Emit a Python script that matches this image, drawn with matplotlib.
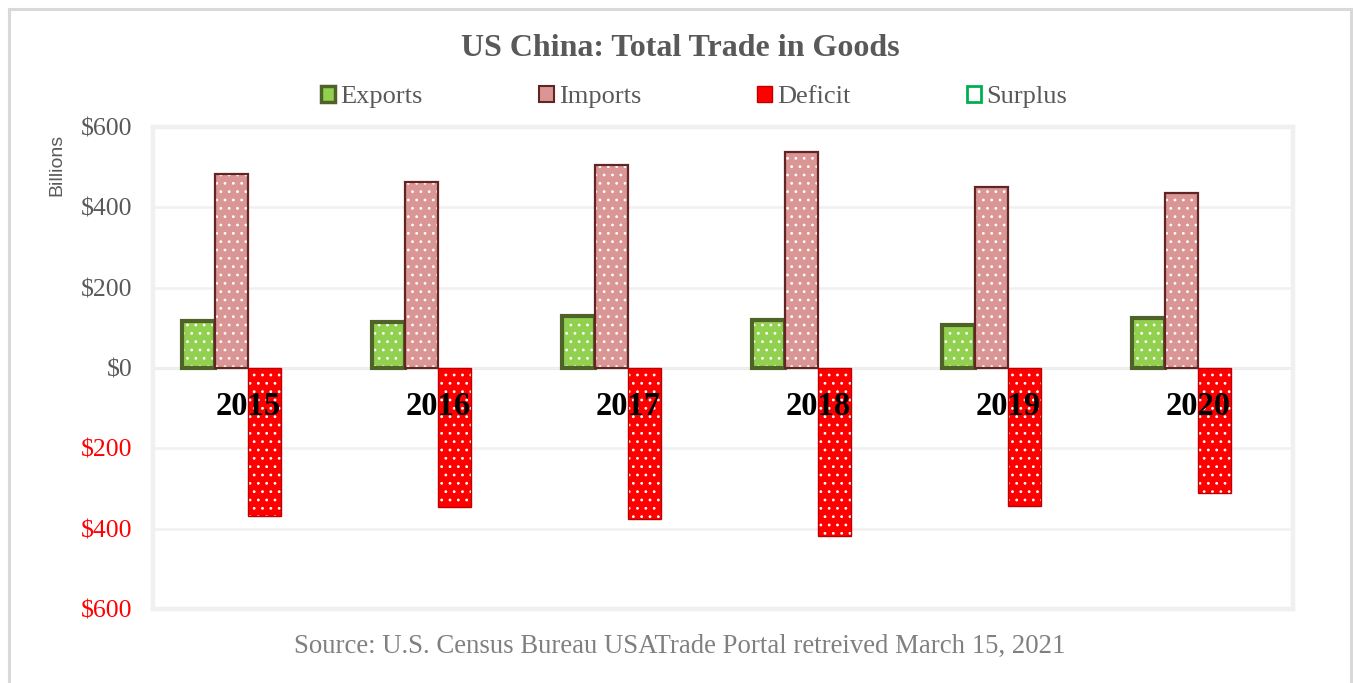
import matplotlib.pyplot as plt
import numpy as np
from matplotlib.patches import Patch, Rectangle

years = ['2015', '2016', '2017', '2018', '2019', '2020']
exports = [115.9, 115.6, 129.8, 120.1, 106.4, 124.6]
imports = [483.2, 462.4, 505.2, 538.5, 450.4, 435.4]
deficit = [-367.3, -346.8, -375.4, -418.4, -344.0, -310.8]
surplus = [0, 0, 0, 0, 0, 0]

serif = 'Liberation Serif'
gray = '#595959'

plt.rcParams['hatch.linewidth'] = 0.8

fig = plt.figure(figsize=(13.53, 6.83), dpi=100)
ax = fig.add_axes([153 / 1353, 1 - 609 / 683, 1140 / 1353, 482 / 683])

x = np.arange(len(years))
w = 0.175
series = [
    (exports, -1.5 * w, '#92d050', '#4f6228', 3.0),
    (imports, -0.5 * w, '#d99694', '#632523', 1.6),
    (deficit, 0.5 * w, '#ff0000', '#c00000', 1.0),
]
for i, (vals, off, fc, ec, lw) in enumerate(series):
    # fill with white dot pattern, then outline on top
    ax.bar(x + off, vals, w, color=fc, edgecolor='white', hatch='..',
           linewidth=0, zorder=3 + i)
    ax.bar(x + off, vals, w, fill=False, edgecolor=ec, linewidth=lw,
           zorder=3 + i)
ax.bar(x + 1.5 * w, surplus, w, color='white', linewidth=0, zorder=2)

ax.set_xlim(-0.5, len(years) - 0.5)
ax.set_ylim(-600, 600)
ax.set_yticks(range(-600, 601, 200))
ax.set_yticklabels(['$%d' % abs(v) for v in range(-600, 601, 200)],
                   fontfamily=serif, fontsize=18.5)
for lab, v in zip(ax.get_yticklabels(), range(-600, 601, 200)):
    lab.set_color('#ff0000' if v < 0 else gray)
ax.tick_params(axis='y', length=0, pad=15)
ax.set_xticks([])
ax.grid(axis='y', color='#f0f0f0', linewidth=1.8, zorder=0)
ax.axhline(0, color='#d9d9d9', linewidth=1.8, zorder=1)
for s in ax.spines.values():
    s.set_color('#f0f0f0')
    s.set_linewidth(3.2)

for i, yr in enumerate(years):
    ax.text(i, -95, yr, ha='center', va='center', fontfamily=serif,
            fontsize=23.5, fontweight='bold', color='black', zorder=10)

fig.text(0.5026, 1 - 48 / 683, 'US China: Total Trade in Goods', ha='center',
         va='center', fontfamily=serif, fontsize=23, fontweight='bold',
         color=gray)

handles = [
    Patch(facecolor='#92d050', edgecolor='#4f6228', linewidth=2.5, label='Exports'),
    Patch(facecolor='#d99694', edgecolor='#632523', linewidth=1.5, label='Imports'),
    Patch(facecolor='#ff0000', edgecolor='#c00000', linewidth=1.0, label='Deficit'),
    Patch(facecolor='white', edgecolor='#00b050', linewidth=2.0, label='Surplus'),
]
leg = fig.legend(handles=handles, loc='center', bbox_to_anchor=(694 / 1353, 1 - 97 / 683),
                 ncol=4, frameon=False, handlelength=0.55, handleheight=0.55,
                 handletextpad=0.2, columnspacing=4.4,
                 prop={'family': serif, 'size': 19})
for t in leg.get_texts():
    t.set_color(gray)

fig.text(57 / 1353, 1 - 134 / 683, 'Billions', rotation=90, ha='center', va='top',
         fontfamily='Liberation Sans', fontsize=14, color='#595959')

fig.text(680 / 1353, 1 - 646 / 683,
         'Source: U.S. Census Bureau USATrade Portal retreived March 15, 2021',
         ha='center', va='center', fontfamily=serif, fontsize=19.3, color='#808080')

# outer chart border
fig.patches.append(Rectangle((9 / 1353, -0.05), 1342 / 1353, 1 + 0.05 - 9 / 683,
                             transform=fig.transFigure, fill=False,
                             edgecolor='#d9d9d9', linewidth=2.2))

fig.savefig('out.png', dpi=100)
